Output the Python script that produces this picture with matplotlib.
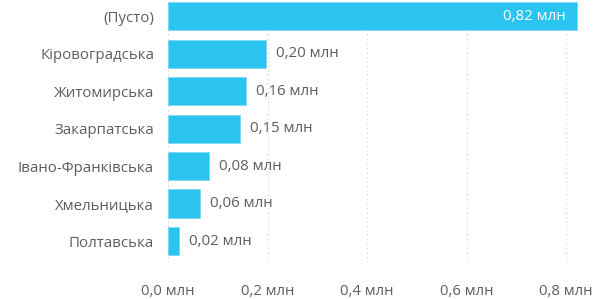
import matplotlib.pyplot as plt
from matplotlib.ticker import MultipleLocator, FuncFormatter

plt.rcParams['font.family'] = ['Open Sans', 'DejaVu Sans']

regions = ['(Пусто)', 'Кіровоградська', 'Житомирська', 'Закарпатська',
           'Івано-Франківська', 'Хмельницька', 'Полтавська']
values = [0.822, 0.197, 0.157, 0.145, 0.082, 0.064, 0.022]
labels = ['0,82 млн', '0,20 млн', '0,16 млн', '0,15 млн', '0,08 млн', '0,06 млн', '0,02 млн']

bar_c = '#2BC4F0'
txt_c = '#605E5C'

f = plt.figure(figsize=(5.95, 2.99), dpi=100)
ax = f.add_axes([168/595, 1 - 262/299, (590 - 168)/595, 262/299])

y = list(range(len(regions)))
ax.barh(y, values, height=0.75, color=bar_c, edgecolor='#7FD8F5', lw=0.6, zorder=3)

ax.set_xlim(0, 422/497.5)
ax.set_ylim(6.56, -0.43)

ax.xaxis.set_major_locator(MultipleLocator(0.2))
ax.xaxis.set_major_formatter(FuncFormatter(lambda v, p: f'{v:.1f}'.replace('.', ',') + ' млн'))
ax.xaxis.grid(True, color='#CCCCCC', ls=(0, (1, 3)), lw=0.8)
ax.set_axisbelow(True)

ax.set_yticks(y)
ax.set_yticklabels(regions)
ax.tick_params(axis='y', length=0, pad=10, labelsize=10.8, labelcolor=txt_c)
ax.tick_params(axis='x', length=0, pad=16, labelsize=10.6, labelcolor=txt_c)

for s in ax.spines.values():
    s.set_visible(False)

for i, (v, t) in enumerate(zip(values, labels)):
    if v > 0.5:
        ax.annotate(t, (v, i), xytext=(-8, 0), textcoords='offset points',
                    ha='right', va='center', color='white', fontsize=10.8, zorder=4)
    else:
        ax.annotate(t, (v, i), xytext=(7, 0), textcoords='offset points',
                    ha='left', va='center', color=txt_c, fontsize=10.8, zorder=4)

f.savefig('out.png', dpi=100)
